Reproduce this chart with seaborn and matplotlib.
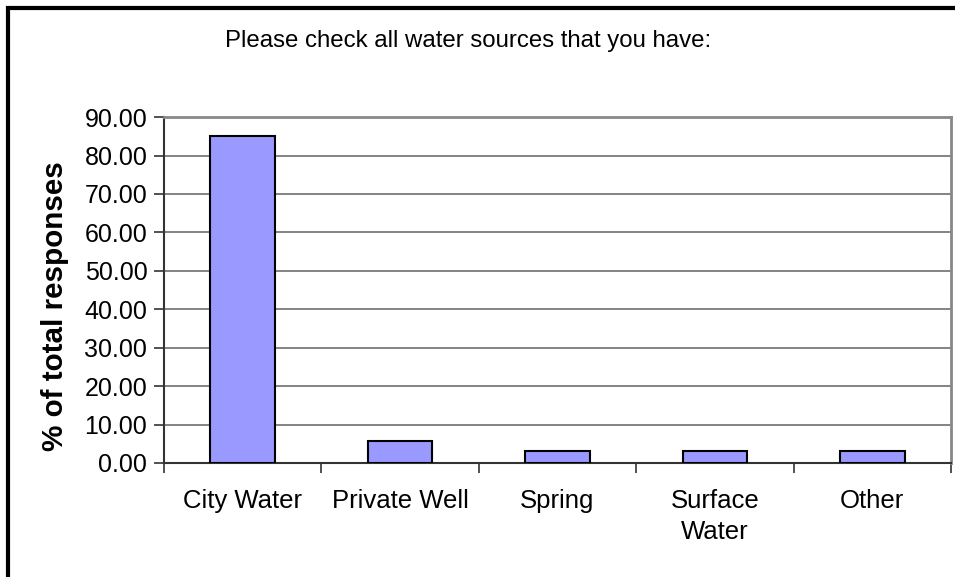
import numpy as np
import pandas as pd
import seaborn as sns
import matplotlib.pyplot as plt
from matplotlib.patches import Rectangle
from matplotlib.ticker import FixedLocator

sources = ["City Water", "Private Well", "Spring", "Surface\nWater", "Other"]
pct = [85.2, 5.6, 3.0, 3.0, 3.0]
yticks = [0, 10, 20, 30, 40, 50, 60, 70, 80, 90]

df = pd.DataFrame({"source": sources, "pct": pct})

sns.set_style("white")
plt.rcParams['font.family'] = ['Liberation Sans', 'DejaVu Sans']
plt.rcParams['xtick.bottom'] = True
plt.rcParams['ytick.left'] = True
plt.rcParams['text.color'] = 'black'
plt.rcParams['xtick.labelcolor'] = 'black'
plt.rcParams['ytick.labelcolor'] = 'black'

fig = plt.figure(figsize=(9.55, 5.77), dpi=100)
ax = fig.add_axes([0.1717, 0.1976, 0.8241, 0.5994])

sns.barplot(data=df, x="source", y="pct", color="#9999FF", width=0.41,
            edgecolor="black", linewidth=1.5, saturation=1, ax=ax, zorder=3)

ax.set_ylim(0, 90)
ax.set_xlim(-0.5, len(sources) - 0.5)
ax.set_yticks(yticks)
ax.set_yticklabels([f"{v:.2f}" for v in yticks], fontsize=18)
ax.yaxis.grid(True, color="#6e6e6e", linewidth=1.2, zorder=0)
ax.set_axisbelow(True)

ax.tick_params(axis="x", which="major", length=0, pad=19, labelsize=18.5)
for lbl in ax.get_xticklabels():
    lbl.set_linespacing(1.35)
ax.xaxis.set_minor_locator(FixedLocator(np.arange(-0.5, len(sources), 1.0)))
ax.tick_params(axis="x", which="minor", length=7, width=1.2, color="#333333",
               bottom=True)
ax.tick_params(axis="y", length=7, width=1.2, color="#333333", pad=5, left=True)

ax.set_xlabel("")
ax.set_ylabel("")
fig.text(55 / 955, 1 - 306 / 577, "% of total responses", rotation=90,
         ha="center", va="center", fontsize=21.3, fontweight="bold")

for s in ["left", "bottom"]:
    ax.spines[s].set_color("#333333")
    ax.spines[s].set_linewidth(1.5)
for s in ["top", "right"]:
    ax.spines[s].set_color("#888888")
    ax.spines[s].set_linewidth(2)

fig.text(468 / 955, 1 - 41 / 577, "Please check all water sources that you have:",
         ha="center", va="center", fontsize=17.3)

fig.patches.append(Rectangle((8 / 955, -0.05), 1.1, 1 - 8 / 577 + 0.05,
                             transform=fig.transFigure, fill=False,
                             edgecolor="black", linewidth=3))

fig.savefig("out.png", dpi=100)
